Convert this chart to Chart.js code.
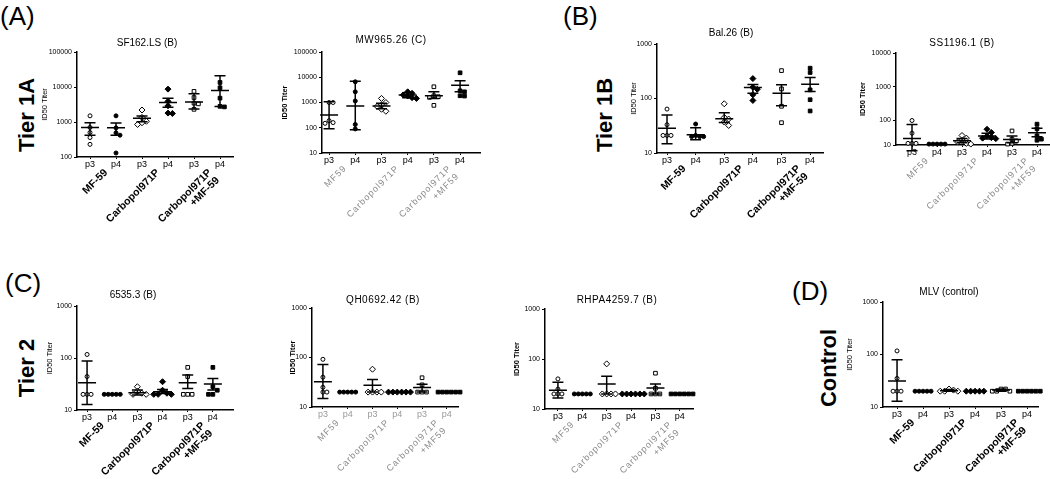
<!DOCTYPE html>
<html>
<head>
<meta charset="utf-8">
<script src="https://cdn.jsdelivr.net/npm/chart.js@4.4.0/dist/chart.umd.min.js"></script>
<style>
  body { margin: 0; width: 1050px; height: 479px; overflow: hidden; background: #fff; position: relative;
         font-family: Arial, 'Liberation Sans', sans-serif; }
  canvas { position: absolute; }
  .lab { position: absolute; font-size: 26px; line-height: 1; color: #000; }
  .tier { position: absolute; font-size: 22px; font-weight: bold; line-height: 1; white-space: nowrap;
          transform: translate(-50%, -50%) rotate(-90deg); }
</style>
</head>
<body>
<div class="lab" style="left:0px;top:3px">(A)</div>
<div class="lab" style="left:563px;top:3px">(B)</div>
<div class="lab" style="left:5px;top:270px">(C)</div>
<div class="lab" style="left:792px;top:278px">(D)</div>
<div class="tier" style="left:27px;top:115px">Tier 1A</div>
<div class="tier" style="left:605px;top:115px">Tier 1B</div>
<div class="tier" style="left:27px;top:368px">Tier 2</div>
<div class="tier" style="left:829px;top:368px">Control</div>

<script>
const FONT = "Arial, 'Liberation Sans', sans-serif";

const passages = ['p3', 'p4', 'p3', 'p4', 'p3', 'p4'];
const boldGroups = [['MF-59'], ['Carbopol971P'], ['Carbopol971P', '+MF-59']];
const grayGroups = [['MF59'], ['Carbopol971P'], ['Carbopol971P', '+MF59']];

// SF162.LS (B)
const sf162Pts = [[1500, 700, 500, 360, 230], [1500, 680, 490, 420, 130], [2200, 1350, 1050, 950, 850],
                  [8700, 3900, 2900, 1800, 1750], [7500, 5000, 3450, 3300, 2300], [13500, 9500, 4800, 2800, 2700]];
const sf162Mean = [700, 690, 1280, 3600, 3700, 8000];
const sf162Lo = [420, 420, 1020, 2650, 2350, 2770];
const sf162Hi = [950, 935, 1490, 4800, 6400, 21000];

// MW965.26 (C)
const mw965Pts = [[1000, 1000, 190, 160, 150], [6600, 2650, 1150, 135, 90], [1450, 1000, 800, 700, 540, 450],
                  [2650, 2300, 2000, 1800, 1550, 1450], [4200, 1850, 1700, 1600, 770], [15000, 2900, 2650, 1850, 1800]];
const mw965Mean = [320, 730, 730, 1970, 1850, 4850];
const mw965Lo = [91, 83, 570, 1550, 1450, 2650];
const mw965Hi = [1070, 7000, 925, 2430, 2650, 7200];

// Bal.26 (B)
const bal26Pts = [[64, 33, 21, 21, 21], [34, 21, 20, 20, 20], [80, 45, 42, 37, 32],
                  [232, 161, 148, 117, 92], [325, 150, 72, 36], [360, 300, 144, 95, 59]];
const bal26Mean = [28.6, 21.6, 42.5, 159, 125, 183];
const bal26Lo = [14.8, 17.5, 36.4, 125, 73.5, 134];
const bal26Hi = [50, 29, 54.7, 180, 178, 242];

// SS1196.1 (B)
const ss1196Pts = [[100, 42, 21, 21, 21], [20, 20, 20, 20, 20], [36, 30, 26, 23, 21, 20],
                   [55, 44, 35, 31, 30, 29], [49, 28, 25, 21, 20], [78, 57, 35, 28, 26]];
const ss1196Mean = [29.5, 20, 25.1, 34.7, 27.5, 43.7];
const ss1196Lo = [12.6, 20, 21.9, 28.2, 21.9, 33];
const ss1196Hi = [76, 20, 29.5, 41.7, 34.7, 59];

// 6535.3 (B)
const p6535Pts = [[117, 44, 20, 20, 20], [20, 20, 20, 20, 20], [28, 23, 21, 20, 20],
                  [35, 24, 21, 20, 20, 20], [66, 44, 20, 20, 20], [66, 28, 24, 20, 20]];
const p6535Mean = [33.4, 20, 21.5, 22.4, 33.4, 31.5];
const p6535Lo = [12.8, 20, 19.4, 20.8, 26, 24.2];
const p6535Hi = [88, 20, 24.2, 24.9, 47, 40.4];

// QH0692.42 (B)
const qhPts = [[92, 40, 25, 20, 20], [20, 20, 20, 20, 20], [58, 20, 20, 20, 20],
               [20, 20, 20, 20, 20, 20], [39, 28, 20, 20, 20], [20, 20, 20, 20, 20, 20]];
const qhMean = [32.2, 20, 27.6, 20, 24.7, 20];
const qhLo = [14.8, 20, 20, 20, 20, 20];
const qhHi = [72.6, 20, 35.9, 20, 28.9, 20];

// RHPA4259.7 (B)
const rhpaPts = [[40, 25, 20, 20, 20], [20, 20, 20, 20, 20], [80, 20, 20, 20, 20],
                 [20, 20, 20, 20, 20, 20], [52, 26, 20, 20, 20], [20, 20, 20, 20, 20, 20]];
const rhpaMean = [23.6, 20, 31.6, 20, 26.3, 20];
const rhpaLo = [16.6, 20, 20, 20, 20, 20];
const rhpaHi = [34.1, 20, 45, 20, 31.6, 20];

// MLV (control)
const mlvPts = [[117, 35, 20, 20, 20], [20, 20, 20, 20, 20], [22, 21, 20, 20, 20],
                [20, 20, 20, 20, 20], [22, 22, 20, 20, 20], [20, 20, 20, 20, 20, 20]];
const mlvMean = [31.2, 20, 20.5, 20, 21, 20];
const mlvLo = [12.8, 20, 20, 20, 20, 20];
const mlvHi = [79.6, 20, 21.5, 20, 22, 20];

// layout: box = [left, top, right, bottom] of the plot area in page pixels
const panels = [
  {title: 'SF162.LS (B)', pts: sf162Pts, mean: sf162Mean, lo: sf162Lo, hi: sf162Hi,
   box: [77, 52, 233, 157], y: [100, 100000], x: [0.5, 6.5], titleAt: [147, 43], axisAt: 45, gray: false},
  {title: 'MW965.26 (C)', pts: mw965Pts, mean: mw965Mean, lo: mw965Lo, hi: mw965Hi,
   box: [322, 52, 480, 153], y: [10, 100000], x: [0.73, 6.76], titleAt: [391, 40], axisAt: 285, gray: true},
  {title: 'Bal.26 (B)', pts: bal26Pts, mean: bal26Mean, lo: bal26Lo, hi: bal26Hi,
   box: [657, 44, 823, 153], y: [10, 1000], x: [0.65, 6.45], titleAt: [731, 33], axisAt: 634, gray: false},
  {title: 'SS1196.1 (B)', pts: ss1196Pts, mean: ss1196Mean, lo: ss1196Lo, hi: ss1196Hi,
   box: [896, 53, 1052, 145], y: [18.8, 10000], x: [0.36, 6.6], titleAt: [962, 43], axisAt: 863, gray: true, minLabel: '10'},
  {title: '6535.3 (B)', pts: p6535Pts, mean: p6535Mean, lo: p6535Lo, hi: p6535Hi,
   box: [77, 306, 233, 410], y: [10, 1000], x: [0.6, 6.8], titleAt: [133, 295], axisAt: 50, gray: false},
  {title: 'QH0692.42 (B)', pts: qhPts, mean: qhMean, lo: qhLo, hi: qhHi,
   box: [312, 308, 458, 407], y: [10, 1000], x: [0.56, 6.45], titleAt: [383, 300], axisAt: 293, gray: true, tickGray: true},
  {title: 'RHPA4259.7 (B)', pts: rhpaPts, mean: rhpaMean, lo: rhpaLo, hi: rhpaHi,
   box: [545, 309, 693, 409], y: [10, 1000], x: [0.47, 6.54], titleAt: [617, 300], axisAt: 517, gray: true},
  {title: 'MLV (control)', pts: mlvPts, mean: mlvMean, lo: mlvLo, hi: mlvHi,
   box: [883, 302, 1038, 407], y: [10, 1000], x: [0.46, 6.42], titleAt: [949, 292], axisAt: 850, gray: false}
];

const markers = [
  {style: 'circle', r: 2.0, fill: '#fff'},
  {style: 'circle', r: 2.0, fill: '#000'},
  {style: 'rectRot', r: 3.0, fill: '#fff'},
  {style: 'rectRot', r: 3.0, fill: '#000'},
  {style: 'rect', r: 2.6, fill: '#fff'},
  {style: 'rect', r: 2.6, fill: '#000'}
];

const padL = 75, padT = 25, padR = 15, padB = 90;

// spread points with near-equal values sideways, like a column scatter
function swarm(vals, ppd, step) {
  const placed = [];
  return vals.map(v => {
    const py = Math.log10(v) * ppd;
    let off = 0;
    for (let k = 0; k < 30; k++) {
      off = (k % 2 ? 1 : -1) * Math.ceil(k / 2) * step;
      if (placed.every(p => Math.hypot(p[0] - off, p[1] - py) >= step * 0.95)) break;
    }
    placed.push([off, py]);
    return off;
  });
}

function bars(p, mh, ch) {
  const d = [];
  p.mean.forEach((m, i) => {
    const c = i + 1;
    d.push({x: c - mh, y: m}, {x: c + mh, y: m}, {x: c, y: null},
           {x: c, y: p.lo[i]}, {x: c, y: p.hi[i]}, {x: c, y: null},
           {x: c - ch, y: p.hi[i]}, {x: c + ch, y: p.hi[i]}, {x: c, y: null},
           {x: c - ch, y: p.lo[i]}, {x: c + ch, y: p.lo[i]}, {x: c, y: null});
  });
  return d;
}

function textPlugin(p, ox, oy) {
  return {
    id: 'panelText',
    afterDraw(chart) {
      const ctx = chart.ctx, a = chart.chartArea, xs = chart.scales.x;
      ctx.save();
      ctx.fillStyle = '#000';
      ctx.textAlign = 'center';
      ctx.textBaseline = 'middle';
      ctx.font = '10px ' + FONT;
      ctx.letterSpacing = p.gray ? '0.5px' : '0px';
      ctx.fillText(p.title, p.titleAt[0] - ox, p.titleAt[1] - oy);

      ctx.save();
      ctx.translate(p.axisAt - ox, (a.top + a.bottom) / 2);
      ctx.rotate(-Math.PI / 2);
      ctx.letterSpacing = '0px';
      ctx.font = (p.gray ? 'bold ' : '') + '7.5px ' + FONT;
      ctx.fillText('ID50 Titer', 0, 0);
      ctx.restore();

      const groups = p.gray ? grayGroups : boldGroups;
      ctx.fillStyle = p.gray ? '#8a8a8a' : '#000';
      ctx.font = p.gray ? '9px ' + FONT : 'bold 10.5px ' + FONT;
      ctx.letterSpacing = p.gray ? '1px' : '0px';
      ctx.textAlign = 'right';
      groups.forEach((lines, g) => {
        const cx = (xs.getPixelForValue(2 * g + 1) + xs.getPixelForValue(2 * g + 2)) / 2 + 3;
        ctx.save();
        ctx.translate(cx, a.bottom + 14);
        ctx.rotate(-Math.PI / 4);
        lines.forEach((t, i) => ctx.fillText(t, 0, i * 11));
        ctx.restore();
      });
      ctx.restore();
    }
  };
}

panels.forEach(p => {
  const [L, T, R, B] = p.box;
  const ox = L - padL, oy = T - padT;
  const cv = document.createElement('canvas');
  cv.width = R - L + padL + padR;
  cv.height = B - T + padT + padB;
  cv.style.left = ox + 'px';
  cv.style.top = oy + 'px';
  document.body.appendChild(cv);

  const pxPerUnit = (R - L) / (p.x[1] - p.x[0]);
  const ppd = (B - T) / Math.log10(p.y[1] / p.y[0]);

  const datasets = [{
    data: bars(p, 9 / pxPerUnit, 5.5 / pxPerUnit),
    showLine: true, pointRadius: 0, borderColor: '#000', borderWidth: 1.5, clip: false
  }];
  p.pts.forEach((vals, g) => {
    const m = markers[g];
    const offs = swarm(vals, ppd, m.style === 'circle' ? 4.0 : 4.4);
    datasets.push({
      data: vals.map((v, i) => ({x: g + 1 + offs[i] / pxPerUnit, y: v})),
      pointStyle: m.style, pointRadius: m.r, backgroundColor: m.fill,
      borderColor: '#000', borderWidth: 1, clip: false
    });
  });

  let decades = [];
  for (let v = 1; v <= p.y[1] * 1.01; v *= 10) if (v >= p.y[0] * 0.99) decades.push(v);
  if (p.minLabel) decades = [p.y[0]].concat(decades);

  new Chart(cv, {
    type: 'scatter',
    data: {datasets},
    plugins: [textPlugin(p, ox, oy)],
    options: {
      responsive: false,
      animation: false,
      events: [],
      layout: {padding: {top: padT, right: padR, left: 0, bottom: 0}, autoPadding: false},
      plugins: {legend: {display: false}, tooltip: {enabled: false}, title: {display: false}},
      scales: {
        x: {
          type: 'linear', min: p.x[0], max: p.x[1],
          afterBuildTicks: s => { s.ticks = passages.map((_, i) => ({value: i + 1})); },
          afterFit: s => { s.height = padB; },
          ticks: {callback: (v, i) => passages[i], font: {size: 9, family: FONT},
                  color: p.tickGray ? '#9a9a9a' : '#000', padding: 0, maxRotation: 0, autoSkip: false},
          grid: {display: true, drawOnChartArea: false, drawTicks: true, tickLength: 2, color: '#000', lineWidth: 1},
          border: {display: true, color: '#000', width: 1.5}
        },
        y: {
          type: 'logarithmic', min: p.y[0], max: p.y[1],
          afterBuildTicks: s => { s.ticks = decades.map(v => ({value: v})); },
          afterFit: s => { s.width = padL; },
          ticks: {callback: v => (p.minLabel && v === p.y[0]) ? p.minLabel : String(v),
                  font: {size: 7, family: FONT}, color: '#000', padding: 2, autoSkip: false},
          grid: {display: true, drawOnChartArea: false, drawTicks: true, tickLength: 3, color: '#000', lineWidth: 1},
          border: {display: true, color: '#000', width: 1.5}
        }
      }
    }
  });
});
</script>
</body>
</html>
